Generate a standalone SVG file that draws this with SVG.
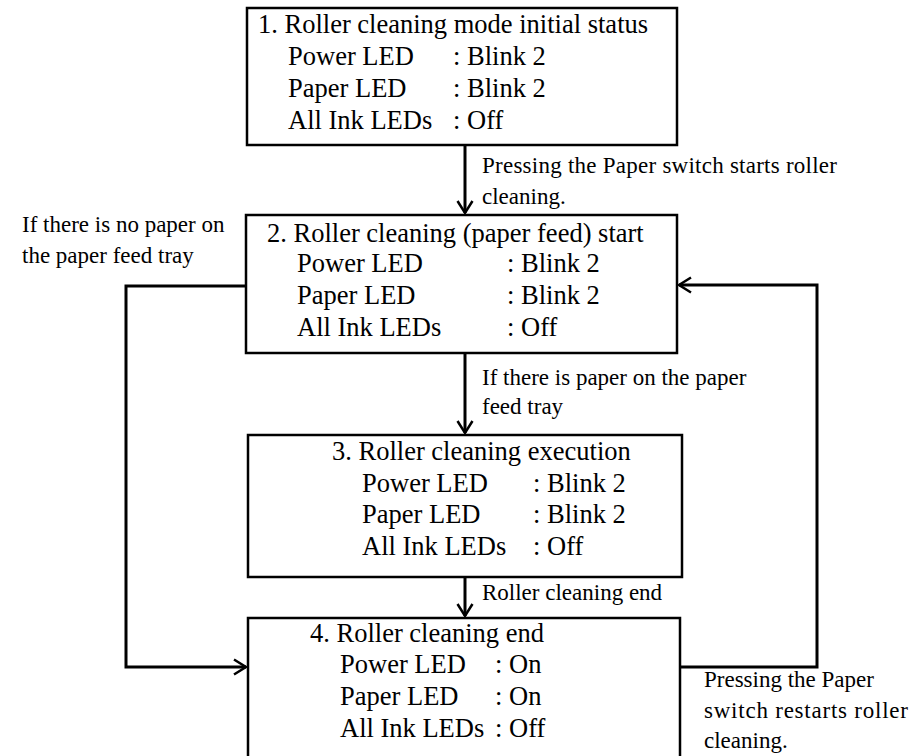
<svg xmlns="http://www.w3.org/2000/svg" width="917" height="756" viewBox="0 0 917 756">
<style>
text{font-family:"Liberation Serif","Times New Roman",serif;fill:#000}
.b{font-size:26.5px}
.l{font-size:23px}
.box{fill:#fff;stroke:#000;stroke-width:2.5}
.c{fill:none;stroke:#000;stroke-width:3}
</style>
<defs>
<marker id="ah" markerUnits="userSpaceOnUse" markerWidth="20" markerHeight="20" refX="14" refY="10" orient="auto">
<path d="M2,2.5 L14,10 L2,17.5" fill="none" stroke="#000" stroke-width="2.5"/>
</marker>
</defs>
<g id="connectors">
<line class="c" x1="465" y1="146" x2="465" y2="213" marker-end="url(#ah)"/>
<line class="c" x1="465" y1="354" x2="465" y2="433" marker-end="url(#ah)"/>
<line class="c" x1="465" y1="578" x2="465" y2="616" marker-end="url(#ah)"/>
<polyline class="c" points="246,286 126,286 126,667 246,667" marker-end="url(#ah)"/>
<polyline class="c" points="681,667 817,667 817,285 679,285" marker-end="url(#ah)"/>
<text class="l" x="482" y="173" textLength="355" lengthAdjust="spacing">Pressing the Paper switch starts roller</text>
<text class="l" x="482" y="204">cleaning.</text>
<text class="l" x="482" y="385">If there is paper on the paper</text>
<text class="l" x="482" y="414">feed tray</text>
<text class="l" x="482" y="600">Roller cleaning end</text>
<text class="l" x="22" y="232">If there is no paper on</text>
<text class="l" x="22" y="263">the paper feed tray</text>
<text class="l" x="704" y="687">Pressing the Paper</text>
<text class="l" x="704" y="718" textLength="204" lengthAdjust="spacing">switch restarts roller</text>
<text class="l" x="704" y="748">cleaning.</text>
</g>
<g id="node1">
<rect class="box" x="247" y="8" width="430" height="137"/>
<text class="b" x="258" y="33">1. Roller cleaning mode initial status</text>
<text class="b" x="288" y="65">Power LED</text><text class="b" x="453" y="65">: Blink 2</text>
<text class="b" x="288" y="97">Paper LED</text><text class="b" x="453" y="97">: Blink 2</text>
<text class="b" x="288" y="129">All Ink LEDs</text><text class="b" x="453" y="129">: Off</text>
</g>
<g id="node2">
<rect class="box" x="246" y="215" width="431" height="138"/>
<text class="b" x="267" y="242">2. Roller cleaning (paper feed) start</text>
<text class="b" x="297" y="272">Power LED</text><text class="b" x="507" y="272">: Blink 2</text>
<text class="b" x="297" y="304">Paper LED</text><text class="b" x="507" y="304">: Blink 2</text>
<text class="b" x="297" y="336">All Ink LEDs</text><text class="b" x="507" y="336">: Off</text>
</g>
<g id="node3">
<rect class="box" x="248" y="435" width="434" height="142"/>
<text class="b" x="332" y="460">3. Roller cleaning execution</text>
<text class="b" x="362" y="492">Power LED</text><text class="b" x="533" y="492">: Blink 2</text>
<text class="b" x="362" y="523">Paper LED</text><text class="b" x="533" y="523">: Blink 2</text>
<text class="b" x="362" y="555">All Ink LEDs</text><text class="b" x="533" y="555">: Off</text>
</g>
<g id="node4">
<rect class="box" x="248" y="618" width="432" height="160"/>
<text class="b" x="310" y="642">4. Roller cleaning end</text>
<text class="b" x="340" y="673">Power LED</text><text class="b" x="495" y="673">: On</text>
<text class="b" x="340" y="705">Paper LED</text><text class="b" x="495" y="705">: On</text>
<text class="b" x="340" y="737">All Ink LEDs</text><text class="b" x="495" y="737">: Off</text>
</g>
</svg>
